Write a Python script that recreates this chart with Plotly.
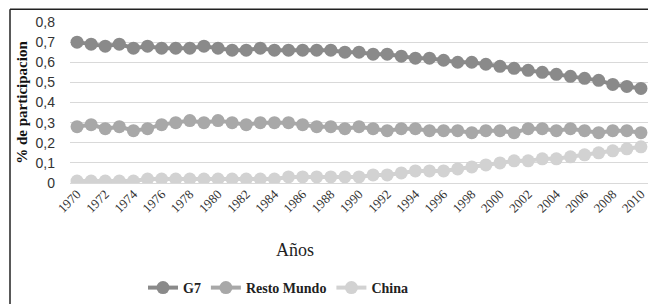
import plotly.graph_objects as go

years = list(range(1970, 2011))
g7 = [0.70, 0.69, 0.68, 0.69, 0.67, 0.68, 0.67, 0.67, 0.67, 0.68,
      0.67, 0.66, 0.66, 0.67, 0.66, 0.66, 0.66, 0.66, 0.66, 0.65,
      0.65, 0.64, 0.64, 0.63, 0.62, 0.62, 0.61, 0.60, 0.60, 0.59,
      0.58, 0.57, 0.56, 0.55, 0.54, 0.53, 0.52, 0.51, 0.49, 0.48, 0.47]
resto = [0.28, 0.29, 0.27, 0.28, 0.26, 0.27, 0.29, 0.30, 0.31, 0.30,
         0.31, 0.30, 0.29, 0.30, 0.30, 0.30, 0.29, 0.28, 0.28, 0.27,
         0.28, 0.27, 0.26, 0.27, 0.27, 0.26, 0.26, 0.26, 0.25, 0.26,
         0.26, 0.25, 0.27, 0.27, 0.26, 0.27, 0.26, 0.25, 0.26, 0.26, 0.25]
china = [0.01, 0.01, 0.01, 0.01, 0.01, 0.02, 0.02, 0.02, 0.02, 0.02,
         0.02, 0.02, 0.02, 0.02, 0.02, 0.03, 0.03, 0.03, 0.03, 0.03,
         0.03, 0.04, 0.04, 0.05, 0.06, 0.06, 0.06, 0.07, 0.08, 0.09,
         0.10, 0.11, 0.11, 0.12, 0.12, 0.13, 0.14, 0.15, 0.16, 0.17, 0.18]
series_names = ["G7", "Resto Mundo", "China"]
series_colors = ["#8a8a8a", "#a8a8a8", "#d2d2d2"]
tick_years = list(range(1970, 2011, 2))

W, H = 648, 304
L, T, B = 70, 22, 118
PW, PH = W - L, H - T - B


def px(x):
    return (x - L) / PW


def py(y):
    return (H - B - y) / PH


fig = go.Figure()
for name, vals, col in zip(series_names, [g7, resto, china], series_colors):
    fig.add_trace(go.Scatter(
        x=years, y=vals, name="<b>" + name + "</b>", mode="lines+markers",
        line=dict(color=col, width=4),
        marker=dict(color=col, size=13),
    ))

fig.update_layout(
    width=W, height=H,
    margin=dict(l=L, r=0, t=T, b=B),
    paper_bgcolor="white", plot_bgcolor="white",
    separators=", ",
    showlegend=True,
    legend=dict(orientation="h", x=px(143), xanchor="left", y=py(293), yanchor="middle",
                font=dict(family="Liberation Serif", size=14, color="#222"),
                itemwidth=30, tracegroupgap=0, bgcolor="rgba(0,0,0,0)"),
    xaxis=dict(range=[1969.5, 2010.5], tickvals=tick_years,
               ticktext=[str(y) for y in tick_years], tickangle=-45,
               showgrid=False, showline=False, zeroline=False, ticks="",
               tickfont=dict(family="Liberation Serif", size=13, color="#333")),
    yaxis=dict(range=[0, 0.8], dtick=0.1, tick0=0, showgrid=True,
               gridcolor="#d9d9d9", gridwidth=1, zeroline=True,
               zerolinecolor="#d9d9d9", zerolinewidth=1, ticks="",
               ticklabelstandoff=14,
               tickfont=dict(family="Liberation Sans", size=14, color="#333"),
               title=dict(text="<b>% de participacion</b>", standoff=4,
                          font=dict(family="Liberation Serif", size=15, color="#111"))),
    annotations=[dict(text="Años", xref="paper", yref="paper",
                      x=px(295), y=py(254),
                      xanchor="center", yanchor="middle", showarrow=False,
                      font=dict(family="Liberation Serif", size=18, color="#222"))],
    shapes=[
        dict(type="line", xref="paper", yref="paper", x0=px(10), x1=px(660),
             y0=py(9), y1=py(9), line=dict(color="#222", width=1.5)),
        dict(type="line", xref="paper", yref="paper", x0=px(10), x1=px(10),
             y0=py(9), y1=py(320), line=dict(color="#222", width=1.5)),
    ],
)

fig.write_html(
    "out.html",
    config={"responsive": False, "displayModeBar": False},
    post_script="document.body.style.margin='0';document.body.style.overflow='hidden';",
)
